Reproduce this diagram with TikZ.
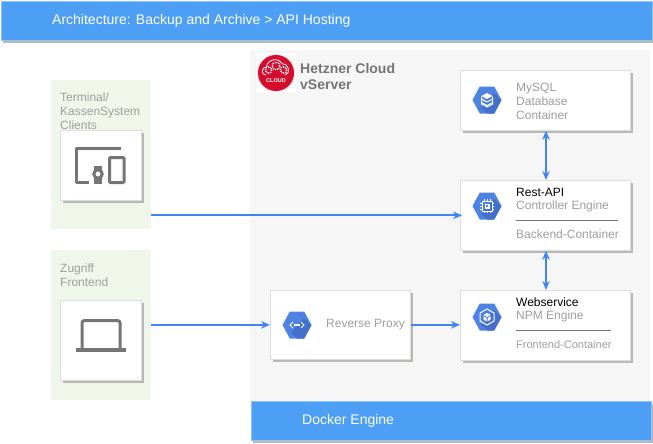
\documentclass[tikz,border=0pt]{standalone}
\usepackage{fontspec}
\setmainfont{Liberation Sans}
\usetikzlibrary{arrows.meta,shadows,calc}
\definecolor{hdr}{HTML}{4D9FF6}
\definecolor{hdredge}{HTML}{8FC3F5}
\definecolor{zone}{HTML}{F6F6F6}
\definecolor{greenz}{HTML}{F1F6EA}
\definecolor{shadowc}{HTML}{B7B9B2}
\definecolor{cardedge}{HTML}{DDDDDD}
\definecolor{txt}{HTML}{9E9E9E}
\definecolor{iconc}{HTML}{757575}
\definecolor{hexc}{HTML}{4F83E3}
\definecolor{hexd}{HTML}{4470CC}
\definecolor{arrowc}{HTML}{4284F3}
\definecolor{hetzner}{HTML}{D50C2D}
\tikzset{
  bar/.style={draw=hdredge,fill=hdr,line width=0.7pt,anchor=north west,inner sep=0pt,
    drop shadow={shadow xshift=2pt,shadow yshift=-2.5pt,fill=shadowc,opacity=1}},
  card/.style={draw=cardedge,fill=white,line width=0.7pt,inner sep=0pt,anchor=north west,
    drop shadow={shadow xshift=2.5pt,shadow yshift=-2.5pt,fill=shadowc,opacity=1}},
  zonebox/.style={fill=greenz,inner sep=0pt,anchor=north west},
  label/.style={anchor=west,inner sep=0pt,align=left,text=txt,font=\fontsize{12}{14}\selectfont},
  whitelabel/.style={anchor=west,inner sep=0pt,text=white,font=\fontsize{14}{16}\selectfont},
  flow/.style={draw=arrowc,line width=2pt,-{Stealth[length=9pt,width=7.5pt]}},
  biflow/.style={draw=arrowc,line width=2pt,{Stealth[length=9pt,width=7.5pt]}-{Stealth[length=9pt,width=7.5pt]}},
  rulel/.style={draw=iconc,line width=0.7pt},
  glyph/.style={draw=white,line width=1pt,fill=none},
}
\newcommand{\hexbase}[2]{%
  \begin{scope}[shift={(#1,#2)}]
    \fill[hexc] (-14.5,0)--(-7.2,-13.5)--(7.2,-13.5)--(14.5,0)--(7.2,13.5)--(-7.2,13.5)--cycle;
    \begin{scope}
      \clip (-14.5,0)--(-7.2,-13.5)--(7.2,-13.5)--(14.5,0)--(7.2,13.5)--(-7.2,13.5)--cycle;
      \fill[hexd] (7,-7)--(20,6)--(8,20)--(-6,8)--cycle;
    \end{scope}
  \end{scope}}
\begin{document}
\begin{tikzpicture}[x=1pt,y=-1pt]
\useasboundingbox (0,0) rectangle (653,444);
\fill[white] (0,0) rectangle (653,444);
% zones
\node[fill=zone,inner sep=0pt,anchor=north west,minimum width=400pt,minimum height=352pt] (server) at (250,50) {};
\node[bar,minimum width=651pt,minimum height=39pt] (header) at (1,1) {};
\node[whitelabel] (headertext) at (52,21) {Architecture: Backup and Archive > API Hosting};
\node[bar,minimum width=400pt,minimum height=39pt] (docker) at (251,401) {};
\node[whitelabel] (dockertext) at (302,421) {Docker Engine};
\node[zonebox,minimum width=100pt,minimum height=149pt] (terminalzone) at (51,80) {};
\node[zonebox,minimum width=100pt,minimum height=150pt] (frontendzone) at (51,250) {};
\node[label] (terminaltext) at (60,111) {Terminal/\\KassenSystem\\Clients};
\node[label] (frontendtext) at (60,275) {Zugriff\\Frontend};
% cards
\node[card,minimum width=81pt,minimum height=70pt] (terminal) at (60,130) {};
\node[card,minimum width=81pt,minimum height=80pt] (laptop) at (60,300) {};
\node[card,minimum width=170pt,minimum height=60pt] (mysql) at (460,70) {};
\node[card,minimum width=170pt,minimum height=70pt] (rest) at (460,180) {};
\node[card,minimum width=140pt,minimum height=69pt] (proxy) at (270,290) {};
\node[card,minimum width=170pt,minimum height=70pt] (web) at (460,290) {};
% logo
\fill[white] (256,53) rectangle (296,93);
\fill[black!8] (276,73) circle (19.5);
\node[circle,fill=hetzner,minimum size=36pt,inner sep=0pt] (logo) at (276,73) {};
\begin{scope}[shift={(276,69)}]
  \draw[white,line width=0.8pt] (-10,6) .. controls (-15,6) and (-15,-2) .. (-9.5,-2) .. controls (-9,-10) and (3,-12) .. (6,-5) .. controls (13,-6) and (15,5) .. (9,6);
  \draw[white,line width=1.5pt,dash pattern=on 1pt off 1pt] (-7.5,1) circle (3.2);
  \draw[white,line width=1.5pt,dash pattern=on 1pt off 1pt] (0,-3) circle (3.8);
  \draw[white,line width=1.5pt,dash pattern=on 1pt off 1pt] (7.5,1) circle (3.2);
\end{scope}
\node[inner sep=0pt,text=white,font=\fontsize{5.5}{6}\bfseries\selectfont] (logotext) at (276,81) {CLOUD};
\node[anchor=west,inner sep=0pt,align=left,text=iconc,font=\fontsize{14}{16}\bfseries\selectfont] (hetznertext) at (300,76) {Hetzner Cloud\\vServer};
% devices icon
\begin{scope}[iconc]
  \draw[line width=3pt,line join=round] (121,148.5) -- (76.5,148.5) -- (76.5,182.5) -- (89,182.5);
  \draw[line width=3pt,rounded corners=1pt] (109.5,157.5) rectangle (124,182.5);
  \draw[line width=3pt] (98,174) circle (4.2);
  \fill (94,166) rectangle (102,170);
  \fill (94,178) rectangle (102,184);
\end{scope}
% laptop icon
\begin{scope}[iconc]
  \draw[line width=3pt,rounded corners=2.5pt] (82,350) -- (82,320.5) -- (120,320.5) -- (120,350);
  \fill (75.5,348) rectangle (125.7,352);
\end{scope}
% hex icons
\hexbase{487}{100}
\begin{scope}[shift={(487,100)}]
  \fill[white] (0,-7) -- (5.5,-4) -- (0,-1) -- (-5.5,-4) -- cycle;
  \draw[glyph] (-5.5,-1) -- (0,2) -- (5.5,-1);
  \draw[glyph] (-5.5,2.5) -- (0,5.5) -- (5.5,2.5);
  \draw[glyph] (-5.5,-3.5) -- (-5.5,4) -- (0,7) -- (5.5,4) -- (5.5,-3.5);
\end{scope}
\hexbase{487}{206}
\begin{scope}[shift={(487,206)}]
  \draw[white,line width=1pt] (-5,-5) rectangle (5,5);
  \fill[white] (-2.5,-2.5) rectangle (2.5,2.5);
  \fill[hexc] (-1.2,-1.2) rectangle (1.2,1.2);
  \foreach \s in {-3,0,3}{
    \draw[white,line width=0.7pt] (\s,-7) -- (\s,-5) (\s,5) -- (\s,7) (-7,\s) -- (-5,\s) (5,\s) -- (7,\s);
  }
\end{scope}
\hexbase{297}{325}
\begin{scope}[shift={(297,325)}]
  \draw[white,line width=1pt] (-4,-3) -- (-7,0) -- (-4,3) (4,-3) -- (7,0) -- (4,3);
  \draw[white,line width=1.2pt] (-3,0) -- (3,0);
\end{scope}
\hexbase{487}{317}
\begin{scope}[shift={(487,317)}]
  \draw[white,line width=1pt] (0,-8) -- (7,-4) -- (7,4) -- (0,8) -- (-7,4) -- (-7,-4) -- cycle;
  \fill[white] (0,-4) -- (3.5,-2) -- (0,0) -- (-3.5,-2) -- cycle;
  \fill[white] (-3.5,-0.8) -- (-0.5,1) -- (-0.5,4.5) -- (-3.5,2.5) -- cycle;
  \fill[white] (3.5,-0.8) -- (0.5,1) -- (0.5,4.5) -- (3.5,2.5) -- cycle;
\end{scope}
% card texts
\node[label] (mysqltext) at (516,101) {MySQL\\Database\\Container};
\node[label] (resttitle) at (516,192.5) {\textcolor{black}{Rest-API}};
\node[label] (resteng) at (516,206.5) {Controller Engine};
\node[label] (restbox) at (516,234.5) {Backend-Container};
\node[label] (proxytext) at (326,325) {Reverse Proxy};
\node[label] (webtitle) at (516,302.5) {\textcolor{black}{Webservice}};
\node[label] (webeng) at (516,316.5) {NPM Engine};
\node[label,font=\fontsize{11}{13}\selectfont] (webbox) at (516,345) {Frontend-Container};
\coordinate (restruleA) at (516,220.5);
\coordinate (restruleB) at (618,220.5);
\coordinate (webruleA) at (516,330.5);
\coordinate (webruleB) at (611,330.5);
\draw[rulel] (restruleA) -- (restruleB);
\draw[rulel] (webruleA) -- (webruleB);
% connectors
\draw[flow] (terminalzone.east |- rest.west) -- ([xshift=2pt]rest.west);
\draw[flow] (frontendzone.east |- proxy.west) -- (proxy.west);
\draw[flow] (proxy.east) -- (web.west |- proxy.east);
\draw[biflow] (mysql.south -| 546,0) -- (rest.north -| 546,0);
\draw[biflow] (rest.south -| 546,0) -- (web.north -| 546,0);
\end{tikzpicture}
\end{document}
